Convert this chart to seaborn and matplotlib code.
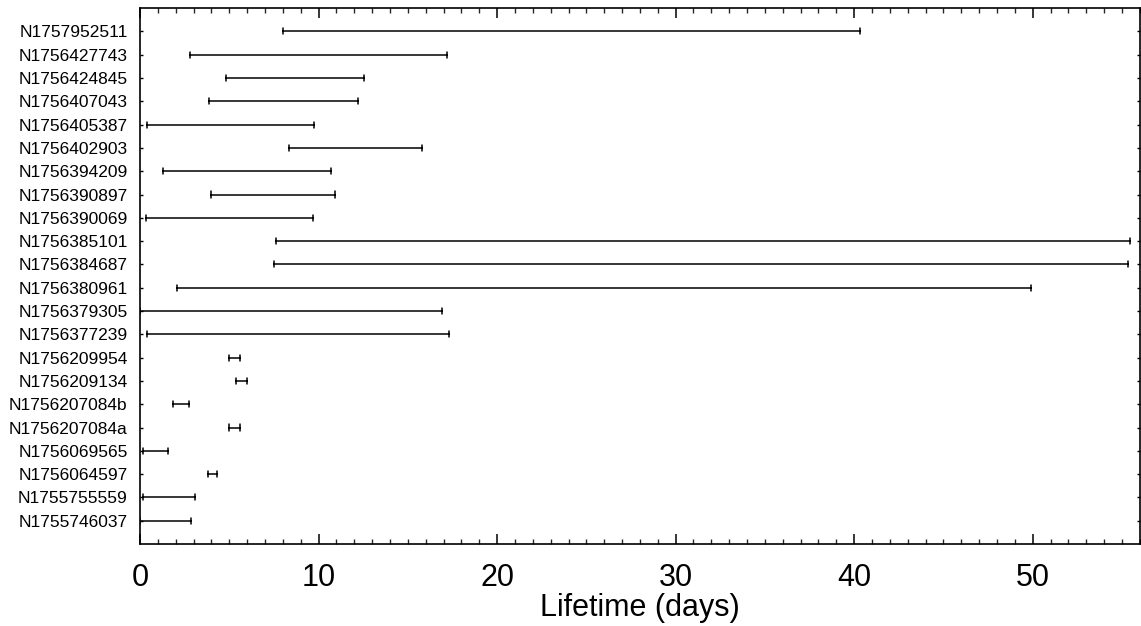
import matplotlib
matplotlib.use("Agg")
import matplotlib.pyplot as plt
from matplotlib.ticker import MultipleLocator
import numpy as np
import pandas as pd
import seaborn as sns

# Observed lifetime window of each object, in days (start, end)
names = [
    "N1757952511", "N1756427743", "N1756424845", "N1756407043",
    "N1756405387", "N1756402903", "N1756394209", "N1756390897",
    "N1756390069", "N1756385101", "N1756384687", "N1756380961",
    "N1756379305", "N1756377239", "N1756209954", "N1756209134",
    "N1756207084b", "N1756207084a", "N1756069565", "N1756064597",
    "N1755755559", "N1755746037",
]
start_days = [
    8.02, 2.80, 4.82, 3.86, 0.39, 8.34, 1.31, 3.96, 0.32, 7.61, 7.50,
    2.05, 0.00, 0.37, 4.98, 5.36, 1.83, 4.96, 0.19, 3.79, 0.19, 0.00,
]
end_days = [
    40.35, 17.19, 12.54, 12.19, 9.76, 15.77, 10.69, 10.92, 9.69, 55.43,
    55.34, 49.93, 16.91, 17.30, 5.60, 5.97, 2.72, 5.60, 1.59, 4.29,
    3.10, 2.87,
]

df = pd.DataFrame({
    "name": names * 2,
    "days": start_days + end_days,
})

sns.set_style("ticks")
plt.rcParams["font.family"] = ["Liberation Sans", "DejaVu Sans"]

fig = plt.figure(figsize=(11.41, 6.26), dpi=100)
ax = fig.add_axes([0.1227, 0.131, 0.8763, 0.856])

sns.pointplot(
    data=df, x="days", y="name", orient="h", order=names,
    estimator="mean",
    errorbar=lambda v: (np.min(v), np.max(v)),
    color="black", marker="", linestyle="none",
    capsize=0.26,
    err_kws={"linewidth": 1.1},
    ax=ax,
)

ax.set_xlim(0, 56)
ax.set_ylim(len(names), -1)
ax.xaxis.set_major_locator(MultipleLocator(10))
ax.xaxis.set_minor_locator(MultipleLocator(1))

for side in ["top", "bottom", "left", "right"]:
    ax.spines[side].set_visible(True)
    ax.spines[side].set_linewidth(1.2)
    ax.spines[side].set_color("black")

ax.tick_params(axis="x", which="major", direction="in", top=True, bottom=True,
               length=7, width=1.1, labelsize=22, pad=14, colors="black")
ax.tick_params(axis="x", which="minor", direction="in", top=True, bottom=True,
               length=3.5, width=1.0)
ax.tick_params(axis="y", which="major", direction="in", left=True, right=True,
               length=2.5, width=1.0, labelsize=12.5, pad=9, colors="black")

ax.set_xlabel("Lifetime (days)", fontsize=22, labelpad=0, color="black")
ax.set_ylabel("")

fig.savefig("out.png", dpi=100)
